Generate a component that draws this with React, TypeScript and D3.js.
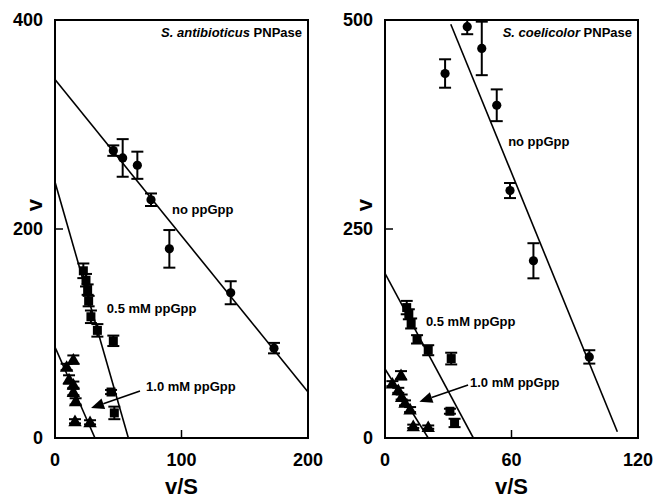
import React from "react";
import * as d3 from "d3";

// S. antibioticus (left panel)
const leftNoX = [46.1, 53.5, 65.1, 75.9, 90.4, 138.9, 173.1];
const leftNoV = [275, 268, 261, 228, 181, 139, 86];
const leftNoErr = [5, 18, 13, 6, 18, 11, 5];
const left05X = [22.4, 24.5, 25.8, 26.6, 28.4, 33.5, 46.1, 44.3, 46.9];
const left05V = [160, 151, 142, 131, 116, 103, 93, 44, 24];
const left05Err = [7, 6, 5, 5, 6, 6, 5, 2, 6];
const left10X = [14.5, 9.2, 11.1, 14.5, 14.5, 16.3, 15.8, 27.7];
const left10V = [75, 68, 56, 51, 44, 35, 16, 15];
const left10Err = [4, 3, 4, 3, 3, 3, 2, 2];
const leftFitX = [[0, 200], [0, 58], [0, 31.6]];
const leftFitV = [[343, 44], [245, 0], [87, 0]];

// S. coelicolor (right panel)
const rightNoX = [39, 45.9, 28.5, 53, 59.3, 70.4, 96.9];
const rightNoV = [492, 466, 436, 398, 296, 212, 97];
const rightNoErr = [9, 32, 17, 19, 9, 21, 8];
const right05X = [10.3, 11.3, 12.4, 15.2, 20.5, 31.4, 30.8, 33];
const right05V = [156, 148, 137, 118, 105, 95, 32, 18];
const right05Err = [8, 6, 6, 5, 6, 7, 3, 5];
const right10X = [7.6, 3.5, 6.3, 7.9, 9.5, 11.9, 13.4, 20.5];
const right10V = [75, 65, 57, 49, 42, 34, 14, 13];
const right10Err = [5, 3, 3, 3, 3, 3, 2, 2];
const rightFitX = [[31.2, 110.2], [0, 41.9], [0, 20.5]];
const rightFitV = [[495, 7.5], [197, 0], [82.5, 0]];

const leftXTicks = [0, 100, 200];
const leftYTicks = [0, 200, 400];
const rightXTicks = [0, 60, 120];
const rightYTicks = [0, 250, 500];

const font = "'Liberation Sans', Arial, sans-serif";

type Series = { x: number[]; v: number[]; err: number[]; shape: string };

const Marker = ({ shape, cx, cy }) => {
  if (shape === "circle") return <circle cx={cx} cy={cy} r={4.6} fill="#000" />;
  if (shape === "square")
    return <rect x={cx - 4.5} y={cy - 4.5} width={9} height={9} fill="#000" />;
  const p = d3.symbol(d3.symbolTriangle, 78)();
  return <path d={p} transform={`translate(${cx},${cy + 1})`} fill="#000" />;
};

const Panel = ({ left, xDomain, yDomain, xTicks, yTicks, series, fitX, fitV, title, species, labels, arrow }) => {
  const top = 20;
  const bottom = 438;
  const width = 253;
  const x = d3.scaleLinear().domain(xDomain).range([left, left + width]);
  const y = d3.scaleLinear().domain(yDomain).range([bottom, top]);
  const line = d3.line<number[]>().x((d) => x(d[0])).y((d) => y(d[1]));
  const ax = x(arrow[0][0]);
  const ay = y(arrow[0][1]);
  const bx = x(arrow[1][0]);
  const by = y(arrow[1][1]);
  const ang = Math.atan2(by - ay, bx - ax);
  const hl = 13;
  const hw = 5.5;
  const baseX = bx - hl * Math.cos(ang);
  const baseY = by - hl * Math.sin(ang);
  const head = [
    [bx, by],
    [baseX + hw * Math.sin(ang), baseY - hw * Math.cos(ang)],
    [baseX - hw * Math.sin(ang), baseY + hw * Math.cos(ang)],
  ];
  return (
    <g>
      <defs>
        <clipPath id={`clip${left}`}>
          <rect x={left} y={top} width={width} height={bottom - top} />
        </clipPath>
      </defs>
      <g clipPath={`url(#clip${left})`}>
        {fitX.map((fx, i) => (
          <path
            key={i}
            d={line(fx.map((d, j) => [d, fitV[i][j]])) || ""}
            stroke="#000"
            strokeWidth={1.6}
            fill="none"
          />
        ))}
        {series.map((s: Series, si) =>
          s.x.map((xv, i) => {
            const cx = x(xv);
            const cy = y(s.v[i]);
            const y1 = y(s.v[i] + s.err[i]);
            const y2 = y(s.v[i] - s.err[i]);
            return (
              <g key={`${si}-${i}`}>
                <line x1={cx} x2={cx} y1={y1} y2={y2} stroke="#000" strokeWidth={2} />
                <line x1={cx - 6} x2={cx + 6} y1={y1} y2={y1} stroke="#000" strokeWidth={2} />
                <line x1={cx - 6} x2={cx + 6} y1={y2} y2={y2} stroke="#000" strokeWidth={2} />
                <Marker shape={s.shape} cx={cx} cy={cy} />
              </g>
            );
          })
        )}
      </g>
      <rect x={left} y={top} width={width} height={bottom - top} fill="none" stroke="#000" strokeWidth={2} />
      {/* inner ticks at middle values */}
      <line x1={left} x2={left + 8} y1={y(yTicks[1])} y2={y(yTicks[1])} stroke="#000" strokeWidth={1.5} />
      <line x1={x(xTicks[1])} x2={x(xTicks[1])} y1={bottom} y2={bottom - 8} stroke="#000" strokeWidth={1.5} />
      {yTicks.map((t) => (
        <text key={t} x={left - 12} y={y(t)} dy="0.35em" textAnchor="end" fontSize={18} fontWeight="bold" fontFamily={font}>
          {t}
        </text>
      ))}
      {xTicks.map((t) => (
        <text key={t} x={x(t)} y={466} textAnchor="middle" fontSize={18} fontWeight="bold" fontFamily={font}>
          {t}
        </text>
      ))}
      <text x={left + width / 2} y={494} textAnchor="middle" fontSize={22} fontWeight="bold" fontFamily={font}>
        v/S
      </text>
      <text
        transform={`translate(${left - 13},205) rotate(-90)`}
        textAnchor="middle"
        fontSize={22}
        fontWeight="bold"
        fontFamily={font}
      >
        v
      </text>
      <text x={left + width - 6} y={37} textAnchor="end" fontSize={13} fontWeight="bold" fontFamily={font}>
        <tspan fontStyle="italic">{species}</tspan> {title}
      </text>
      {labels.map((l, i) => (
        <text key={i} x={x(l.x)} y={y(l.v)} dy="0.35em" fontSize={13} fontWeight="bold" fontFamily={font}>
          {l.text}
        </text>
      ))}
      <line x1={ax} y1={ay} x2={baseX} y2={baseY} stroke="#000" strokeWidth={1.6} />
      <polygon points={head.map((p) => p.join(",")).join(" ")} fill="#000" />
    </g>
  );
};

export default function App() {
  return (
    <svg width={655} height={500} style={{ position: "absolute", left: 0, top: 0, background: "#fff" }}>
      <Panel
        left={55}
        xDomain={[0, 200]}
        yDomain={[0, 400]}
        xTicks={leftXTicks}
        yTicks={leftYTicks}
        species="S. antibioticus"
        title="PNPase"
        fitX={leftFitX}
        fitV={leftFitV}
        series={[
          { x: leftNoX, v: leftNoV, err: leftNoErr, shape: "circle" },
          { x: left05X, v: left05V, err: left05Err, shape: "square" },
          { x: left10X, v: left10V, err: left10Err, shape: "triangle" },
        ]}
        labels={[
          { x: 92.5, v: 219, text: "no ppGpp" },
          { x: 41, v: 124, text: "0.5 mM ppGpp" },
          { x: 72, v: 49, text: "1.0 mM ppGpp" },
        ]}
        arrow={[[67.2, 45], [28.5, 28.7]]}
      />
      <Panel
        left={385}
        xDomain={[0, 120]}
        yDomain={[0, 500]}
        xTicks={rightXTicks}
        yTicks={rightYTicks}
        species="S. coelicolor"
        title="PNPase"
        fitX={rightFitX}
        fitV={rightFitV}
        series={[
          { x: rightNoX, v: rightNoV, err: rightNoErr, shape: "circle" },
          { x: right05X, v: right05V, err: right05Err, shape: "square" },
          { x: right10X, v: right10V, err: right10Err, shape: "triangle" },
        ]}
        labels={[
          { x: 58.4, v: 355, text: "no ppGpp" },
          { x: 19.4, v: 139, text: "0.5 mM ppGpp" },
          { x: 40.3, v: 66, text: "1.0 mM ppGpp" },
        ]}
        arrow={[[39.4, 63.4], [16.3, 43.4]]}
      />
    </svg>
  );
}
